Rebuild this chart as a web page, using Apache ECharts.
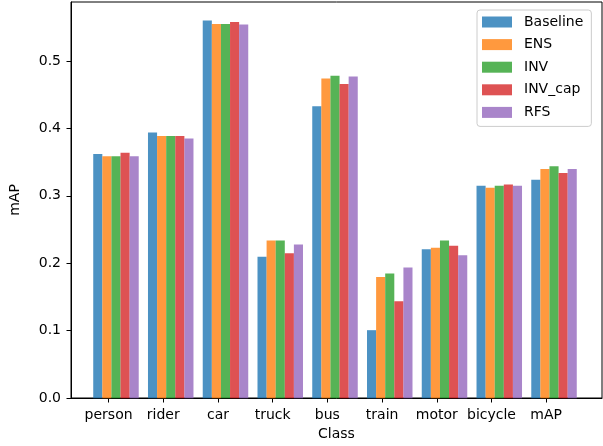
<!DOCTYPE html>
<html>
<head>
<meta charset="utf-8">
<script src="https://cdn.jsdelivr.net/npm/echarts@6/dist/echarts.min.js"></script>
<style>
html,body{margin:0;padding:0;background:#fff;}
#chart{width:603px;height:446px;}
</style>
</head>
<body>
<div id="chart"></div>
<script>
const categories = ['person','rider','car','truck','bus','train','motor','bicycle','mAP'];
const seriesNames = ['Baseline','ENS','INV','INV_cap','RFS'];
const baseline = [0.362, 0.394, 0.560, 0.210, 0.433, 0.101, 0.221, 0.315, 0.324];
const ens      = [0.359, 0.389, 0.555, 0.234, 0.474, 0.180, 0.223, 0.312, 0.340];
const inv      = [0.359, 0.389, 0.555, 0.234, 0.478, 0.185, 0.234, 0.315, 0.344];
const invCap   = [0.364, 0.389, 0.558, 0.215, 0.466, 0.144, 0.226, 0.317, 0.334];
const rfs      = [0.359, 0.385, 0.554, 0.228, 0.477, 0.194, 0.212, 0.315, 0.340];
const yTicks = [0, 0.1, 0.2, 0.3, 0.4, 0.5];
const colors = ['#1f77b4','#ff7f0e','#2ca02c','#d62728','#9467bd'];

const allData = [baseline, ens, inv, invCap, rfs];
const font = 'DejaVu Sans';
const fs = 14;
const yMax = 0.5875;
const xTicks = categories.map((_, i) => i);

const chart = echarts.init(document.getElementById('chart'), null, {renderer: 'canvas'});
chart.setOption({
  animation: false,
  backgroundColor: '#fff',
  color: colors,
  legend: {
    data: seriesNames,
    orient: 'vertical',
    left: 477,
    top: 10,
    padding: [5, 8, 7, 5],
    itemWidth: 30,
    itemHeight: 11,
    itemGap: 8.6,
    borderColor: '#cccccc',
    borderWidth: 1,
    borderRadius: 3,
    backgroundColor: 'rgba(255,255,255,0.8)',
    icon: 'rect',
    itemStyle: {opacity: 0.8},
    textStyle: {fontFamily: font, fontSize: fs, color: '#000', lineHeight: 14, padding: [0, 0, 0, 7]}
  },
  grid: [
    {left: 69, right: 1, top: 2, bottom: 47.7, show: true, borderColor: '#000', borderWidth: 1, backgroundColor: 'transparent'},
    {left: 88.6, right: 21.6, top: 2, bottom: 47.7}
  ],
  xAxis: [
    {
      gridIndex: 0, type: 'value', min: -0.687, max: 9.02,
      name: 'Class', nameLocation: 'middle', nameGap: 29,
      nameTextStyle: {fontFamily: font, fontSize: fs, color: '#000'},
      axisLine: {show: true, onZero: false, lineStyle: {color: '#000', width: 1}},
      axisTick: {show: true, length: 4.5, customValues: xTicks, lineStyle: {color: '#000'}},
      axisLabel: {customValues: xTicks, formatter: v => categories[v], fontFamily: font, fontSize: fs, color: '#000', margin: 10},
      splitLine: {show: false}
    },
    {gridIndex: 1, type: 'category', data: categories, show: false}
  ],
  yAxis: [
    {
      gridIndex: 0, type: 'value', min: 0, max: yMax,
      name: 'mAP', nameLocation: 'middle', nameGap: 49,
      nameTextStyle: {fontFamily: font, fontSize: fs, color: '#000'},
      axisLine: {show: true, onZero: false, lineStyle: {color: '#000', width: 1}},
      axisTick: {show: true, length: 4.5, customValues: yTicks, lineStyle: {color: '#000'}},
      axisLabel: {customValues: yTicks, formatter: v => v.toFixed(1), fontFamily: font, fontSize: fs, color: '#000', margin: 10},
      splitLine: {show: false}
    },
    {gridIndex: 1, type: 'value', min: 0, max: yMax, show: false, splitLine: {show: false}}
  ],
  series: seriesNames.map((name, k) => ({
    name: name,
    type: 'bar',
    xAxisIndex: 1,
    yAxisIndex: 1,
    data: allData[k],
    barWidth: 9.1,
    barGap: '0%',
    itemStyle: {color: colors[k], opacity: 0.8}
  }))
});
</script>
</body>
</html>
